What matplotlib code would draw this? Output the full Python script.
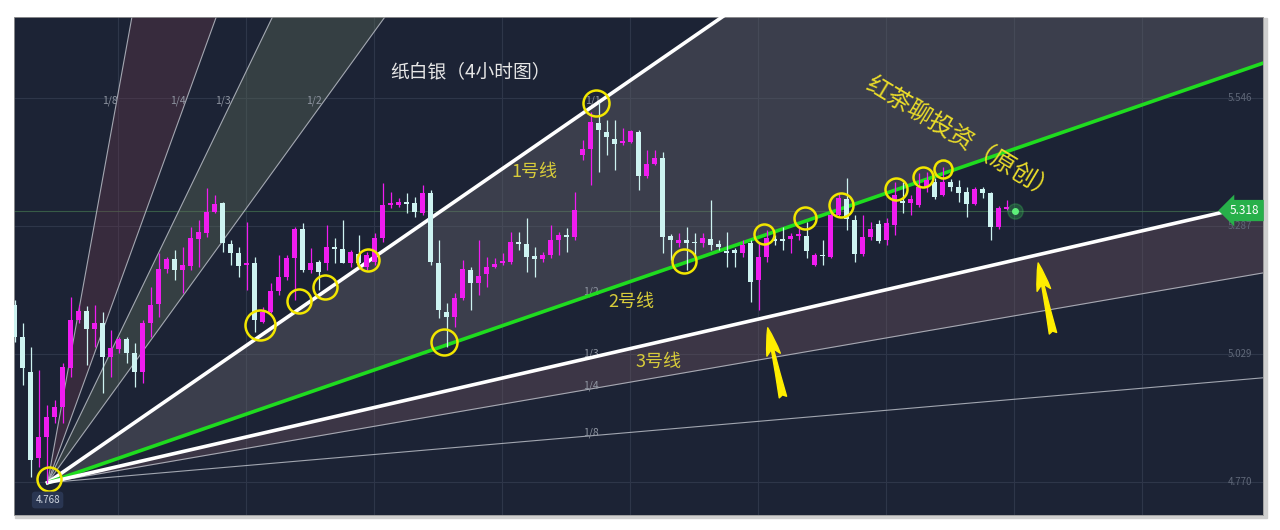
"""
纸白银 4小时图 + 江恩角度线 (Gann fan) 示意图
"""

import numpy as np
import matplotlib.pyplot as plt
from matplotlib.patches import Rectangle

plt.rcParams['font.family'] = ['Noto Sans CJK SC', 'DejaVu Sans']

# ---- candle data (4h bars) ----
opens = [5.127, 5.063, 4.992, 4.818, 4.860, 4.901, 4.921, 5.000, 5.097, 5.115,
         5.079, 5.091, 5.022, 5.038, 5.059, 5.030, 4.992, 5.091, 5.129, 5.200,
         5.220, 5.198, 5.206, 5.261, 5.273, 5.315, 5.333, 5.250, 5.232, 5.208,
         5.212, 5.093, 5.113, 5.155, 5.184, 5.222, 5.281, 5.198, 5.214, 5.212,
         5.244, 5.240, 5.212, 5.230, 5.204, 5.214, 5.263, 5.329, 5.329, 5.335,
         5.333, 5.313, 5.354, 5.212, 5.113, 5.103, 5.141, 5.198, 5.172, 5.190,
         5.204, 5.212, 5.214, 5.254, 5.250, 5.226, 5.220, 5.228, 5.259, 5.269,
         5.265, 5.430, 5.442, 5.495, 5.477, 5.463, 5.455, 5.457, 5.477, 5.388,
         5.412, 5.424, 5.267, 5.252, 5.259, 5.254, 5.252, 5.261, 5.250, 5.236,
         5.238, 5.232, 5.252, 5.178, 5.224, 5.261, 5.261, 5.261, 5.267, 5.267,
         5.208, 5.228, 5.224, 5.309, 5.341, 5.299, 5.230, 5.265, 5.291, 5.259,
         5.289, 5.337, 5.333, 5.329, 5.366, 5.376, 5.349, 5.376, 5.366, 5.356,
         5.331, 5.362, 5.354, 5.285, 5.321]
highs = [5.137, 5.091, 5.042, 4.996, 4.925, 4.935, 5.010, 5.143, 5.127, 5.125,
         5.127, 5.113, 5.077, 5.063, 5.063, 5.051, 5.097, 5.164, 5.232, 5.224,
         5.238, 5.244, 5.285, 5.299, 5.364, 5.349, 5.335, 5.259, 5.244, 5.295,
         5.224, 5.123, 5.172, 5.228, 5.228, 5.285, 5.293, 5.242, 5.218, 5.289,
         5.263, 5.299, 5.238, 5.269, 5.234, 5.273, 5.374, 5.356, 5.343, 5.354,
         5.345, 5.370, 5.360, 5.259, 5.131, 5.151, 5.218, 5.204, 5.259, 5.224,
         5.222, 5.232, 5.275, 5.275, 5.303, 5.244, 5.234, 5.289, 5.275, 5.283,
         5.356, 5.461, 5.517, 5.537, 5.501, 5.501, 5.485, 5.481, 5.481, 5.440,
         5.440, 5.436, 5.271, 5.273, 5.285, 5.273, 5.273, 5.339, 5.259, 5.275,
         5.242, 5.259, 5.259, 5.252, 5.279, 5.269, 5.285, 5.273, 5.285, 5.295,
         5.232, 5.259, 5.319, 5.354, 5.384, 5.309, 5.309, 5.295, 5.299, 5.303,
         5.376, 5.376, 5.349, 5.394, 5.396, 5.384, 5.406, 5.382, 5.380, 5.366,
         5.366, 5.366, 5.356, 5.327, 5.339]
lows = [5.053, 4.965, 4.780, 4.800, 4.768, 4.889, 4.889, 4.982, 5.091, 5.006,
        5.042, 4.949, 4.982, 5.030, 5.010, 4.961, 4.970, 5.063, 5.103, 5.192,
        5.178, 5.151, 5.198, 5.204, 5.265, 5.313, 5.234, 5.208, 5.184, 5.158,
        5.073, 5.091, 5.111, 5.147, 5.178, 5.137, 5.194, 5.192, 5.158, 5.198,
        5.212, 5.212, 5.204, 5.204, 5.198, 5.208, 5.254, 5.323, 5.325, 5.313,
        5.305, 5.309, 5.208, 5.101, 5.042, 5.083, 5.137, 5.117, 5.147, 5.164,
        5.202, 5.208, 5.210, 5.238, 5.194, 5.184, 5.214, 5.222, 5.228, 5.234,
        5.259, 5.420, 5.370, 5.396, 5.430, 5.400, 5.451, 5.455, 5.360, 5.384,
        5.410, 5.232, 5.218, 5.244, 5.198, 5.224, 5.244, 5.238, 5.238, 5.204,
        5.204, 5.224, 5.133, 5.117, 5.214, 5.248, 5.238, 5.232, 5.259, 5.222,
        5.206, 5.208, 5.222, 5.307, 5.279, 5.214, 5.226, 5.259, 5.252, 5.248,
        5.269, 5.313, 5.309, 5.325, 5.356, 5.341, 5.347, 5.358, 5.335, 5.305,
        5.329, 5.343, 5.259, 5.281, 5.319]
closes = [5.063, 5.000, 4.814, 4.860, 4.901, 4.921, 5.002, 5.097, 5.115, 5.079,
          5.091, 5.022, 5.040, 5.059, 5.030, 4.992, 5.091, 5.127, 5.200, 5.220,
          5.198, 5.208, 5.263, 5.275, 5.315, 5.331, 5.252, 5.232, 5.206, 5.212,
          5.097, 5.113, 5.155, 5.184, 5.222, 5.281, 5.198, 5.212, 5.194, 5.244,
          5.240, 5.212, 5.234, 5.212, 5.228, 5.263, 5.329, 5.333, 5.335, 5.331,
          5.315, 5.354, 5.214, 5.117, 5.103, 5.141, 5.200, 5.172, 5.186, 5.204,
          5.210, 5.214, 5.254, 5.250, 5.224, 5.220, 5.228, 5.259, 5.269, 5.265,
          5.319, 5.442, 5.497, 5.481, 5.467, 5.453, 5.457, 5.479, 5.388, 5.412,
          5.424, 5.265, 5.259, 5.259, 5.252, 5.252, 5.263, 5.248, 5.244, 5.232,
          5.232, 5.248, 5.174, 5.224, 5.263, 5.256, 5.256, 5.267, 5.271, 5.236,
          5.228, 5.226, 5.309, 5.343, 5.301, 5.230, 5.265, 5.281, 5.256, 5.293,
          5.349, 5.333, 5.341, 5.366, 5.380, 5.345, 5.376, 5.366, 5.354, 5.331,
          5.362, 5.354, 5.285, 5.323, 5.325]
last_price = 5.318
low_price = 4.768

# price axis labels and grid
price_levels = [4.770, 5.029, 5.287, 5.546]
time_grid = [12.9, 28.9, 44.9, 60.9, 76.9, 92.9, 108.9, 124.9, 140.9]

# Gann fan: anchor on the low, box corner sets the 1x1 angle
fan_x0, fan_p0 = 4.1, 4.768
box_x1, box_p1 = 72.0, 5.526
upper_ratios = [8, 4, 3, 2]
lower_ratios = [2, 3, 4, 8]

# touch points marked with yellow circles (bar index, price, radius px)
touch_x = [4.25, 72.6, 30.6, 35.5, 38.75, 44.1, 53.6, 83.6, 93.6, 98.75, 103.25, 110.1, 113.5, 116.0]
touch_p = [4.775, 5.535, 5.087, 5.135, 5.163, 5.218, 5.052, 5.216, 5.271, 5.303, 5.329, 5.362, 5.386, 5.402]
touch_r = [12, 13, 15, 12, 12, 11, 13, 12, 10, 11, 12, 11, 10, 9]

bg = '#1c2335'
up_col = '#f01cf0'
dn_col = '#cdf3f1'
yellow = '#f2e600'

fig = plt.figure(figsize=(12.8, 5.3), dpi=100)
fig.patch.set_facecolor('white')
# soft shadow behind the chart panel
fig.add_artist(Rectangle((15 / 1280, 12 / 530), 1252 / 1280, 500 / 530,
                         transform=fig.transFigure, color='#cfcfcf', zorder=-5))
ax = fig.add_axes([14 / 1280, 15 / 530, 1249 / 1280, 498 / 530])
ax.set_zorder(2)
ax.set_facecolor(bg)
ax.set_xlim(-0.1, 156.0)
ax.set_ylim(4.7027, 5.7091)

# grid
for p in price_levels:
    ax.axhline(p, color='#2e3649', lw=0.8, zorder=0.5)
for t in time_grid:
    ax.axvline(t, color='#2e3649', lw=0.8, zorder=0.5)
ax.axhline(last_price, color='#3e6a4c', lw=0.8, alpha=0.8, zorder=0.6)

# fan lines
s1 = (box_p1 - fan_p0) / (box_x1 - fan_x0)
xs = np.linspace(fan_x0, 160, 400)


def fan(r):
    return fan_p0 + r * s1 * (xs - fan_x0)


ax.fill_between(xs, fan(8), fan(4), color='#6b3a4c', alpha=0.35, lw=0, zorder=1)
ax.fill_between(xs, fan(3), fan(2), color='#5d6b5a', alpha=0.4, lw=0, zorder=1)
ax.fill_between(xs, fan(1), fan(1 / 2), color='#67656c', alpha=0.42, lw=0, zorder=1)
ax.fill_between(xs, fan(1 / 3), fan(1 / 4), color='#6e5560', alpha=0.4, lw=0, zorder=1)

for r in upper_ratios + [1 / 4, 1 / 8]:
    ax.plot(xs, fan(r), color='#b9bdc6', lw=0.8, alpha=0.85, zorder=2)
ax.plot(xs, fan(1), color='white', lw=2.6, zorder=3)
ax.plot(xs, fan(1 / 2), color='#1fdc1f', lw=2.6, zorder=3)
ax.plot(xs, fan(1 / 3), color='white', lw=2.6, zorder=3)

# fan labels
for k in upper_ratios:
    ax.text(fan_x0 + (box_x1 - fan_x0) / k - 0.7, box_p1 + 0.004, f'1/{k}',
            color='#8e94a0', fontsize=7.5, ha='center', va='bottom', zorder=2.5)
ax.text(box_x1 + 0.2, box_p1 + 0.004, '1/1', color='#8e94a0', fontsize=7.5,
        ha='center', va='bottom', zorder=2.5)
for k in lower_ratios:
    ax.text(box_x1, fan_p0 + (box_p1 - fan_p0) / k + 0.007, f'1/{k}',
            color='#8e94a0', fontsize=7.5, ha='center', va='center', zorder=2.5)

# candles
O = np.array(opens)
H = np.array(highs)
L = np.array(lows)
C = np.array(closes)
x = np.arange(len(O))
is_up = C >= O
cols = np.where(is_up, up_col, dn_col)
ax.vlines(x, L, H, colors=cols, lw=0.9, zorder=4)
body_lo = np.minimum(O, C)
body_h = np.maximum(np.abs(C - O), 0.003)
ax.bar(x, body_h, bottom=body_lo, width=0.62, color=cols, lw=0, zorder=5)

# current price glow
ax.plot([len(O)], [last_price], 'o', ms=11, color='#3ddc5a', alpha=0.25, zorder=5)
ax.plot([len(O)], [last_price], 'o', ms=4, color='#5ef07a', zorder=5)

# yellow touch circles (size in px -> points)
for tx, tp, tr in zip(touch_x, touch_p, touch_r):
    ax.plot(tx, tp, 'o', ms=tr * 2 * 0.72, mfc='none', mec=yellow, mew=1.8, zorder=6)

# arrows
for tip, tail in [((94.1, 5.081), (96.0, 4.941)), ((127.9, 5.212), (129.75, 5.070))]:
    ax.annotate('', xy=tip, xytext=tail,
                arrowprops=dict(arrowstyle='fancy,head_length=1.1,head_width=0.55,tail_width=0.3',
                                color='#ffee00', mutation_scale=18, shrinkA=0, shrinkB=0),
                zorder=7)

# texts
ax.text(57, 5.598, '纸白银（4小时图）', color='#e6e6e6', fontsize=13.5, ha='center', va='center', zorder=7)
ax.text(64.9, 5.396, '1号线', color='#d8cc3a', fontsize=13, ha='center', va='center', zorder=7)
ax.text(77.0, 5.133, '2号线', color='#d8cc3a', fontsize=13, ha='center', va='center', zorder=7)
ax.text(80.5, 5.012, '3号线', color='#d8cc3a', fontsize=13, ha='center', va='center', zorder=7)
ax.text(118.2, 5.462, '红茶聊投资（原创）', color='#eadc2a', fontsize=17.5, rotation=-31,
        ha='center', va='center', zorder=7)

# right-side price scale
for p in price_levels:
    ax.text(0.9816, p, f'{p:.3f}', transform=ax.get_yaxis_transform(), color='#5f6778',
            fontsize=7, ha='center', va='center', zorder=7)
ax.text(0.9855, last_price, f'{last_price:.3f}', transform=ax.get_yaxis_transform(),
        color='white', fontsize=8.5, ha='center', va='center', zorder=8, clip_on=False,
        bbox=dict(boxstyle='larrow,pad=0.35', fc='#27b04a', ec='none'))
ax.text(fan_x0, low_price - 0.035, f'{low_price:.3f}', color='#d0d6e0', fontsize=7,
        ha='center', va='center', zorder=8,
        bbox=dict(boxstyle='round,pad=0.35', fc='#2a3652', ec='none'))

ax.set_xticks([])
ax.set_yticks([])
for s in ax.spines.values():
    s.set_color('#9a9a9a')
    s.set_linewidth(0.6)

plt.savefig('out.png', dpi=100, facecolor='white')
plt.close()
print("Saved out.png")
